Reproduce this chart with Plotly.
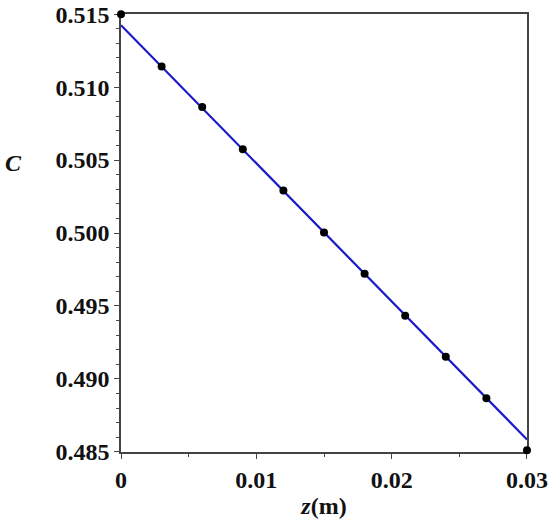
import plotly.graph_objects as go

z_points = [0.0, 0.003, 0.006, 0.009, 0.012, 0.015, 0.018, 0.021, 0.024, 0.027, 0.030]
c_points = [0.5150, 0.51141, 0.50864, 0.50574, 0.50291, 0.50003, 0.49720, 0.49433, 0.49151, 0.48868, 0.48511]
z_line = [0.0, 0.030]
c_line = [0.51424, 0.48585]

x_ticks = [0, 0.01, 0.02, 0.03]
x_ticklabels = ["0", "0.01", "0.02", "0.03"]
y_ticks = [0.485, 0.490, 0.495, 0.500, 0.505, 0.510, 0.515]
y_ticklabels = ["0.485", "0.490", "0.495", "0.500", "0.505", "0.510", "0.515"]

font_fam = "Liberation Serif"
fsize = 24

fig = go.Figure()
fig.add_trace(go.Scatter(x=z_line, y=c_line, mode="lines",
                         line=dict(color="#1a1ac8", width=2.2), cliponaxis=False))
fig.add_trace(go.Scatter(x=z_points, y=c_points, mode="markers",
                         marker=dict(color="black", size=8), cliponaxis=False))

axis_common = dict(showgrid=False, zeroline=False, showline=True, linecolor="#444",
                   linewidth=1.5, mirror=True, ticks="outside", ticklen=5,
                   tickcolor="#444", tickwidth=1.2, layer="below traces",
                   ticklabeloverflow="allow", automargin=False,
                   tickfont=dict(family=font_fam, size=fsize, color="#111"))

fig.update_layout(
    width=551, height=525,
    margin=dict(l=121, r=24, t=14, b=73),
    paper_bgcolor="white", plot_bgcolor="white",
    showlegend=False,
    xaxis=dict(range=[-0.000001, 0.030001], tickvals=x_ticks,
               ticktext=[f"<b>{t}</b>" for t in x_ticklabels],
               minor=dict(dtick=0.005, ticks="outside", ticklen=3, tickcolor="#444"),
               title=dict(text="<b><i>z</i>(m)</b>", font=dict(family=font_fam, size=fsize, color="#111"),
                          standoff=6),
               **axis_common),
    yaxis=dict(range=[0.48499, 0.51501], tickvals=y_ticks,
               ticktext=[f"<b>{t}</b>" for t in y_ticklabels],
               minor=dict(dtick=0.001, ticks="outside", ticklen=3, tickcolor="#444"),
               **axis_common),
)
fig.add_annotation(text="<b><i>C</i></b>", xref="paper", yref="paper", x=-0.265, y=0.66,
                   showarrow=False, font=dict(family=font_fam, size=fsize, color="#111"),
                   xanchor="center", yanchor="middle")

fig.write_html("out.html")
